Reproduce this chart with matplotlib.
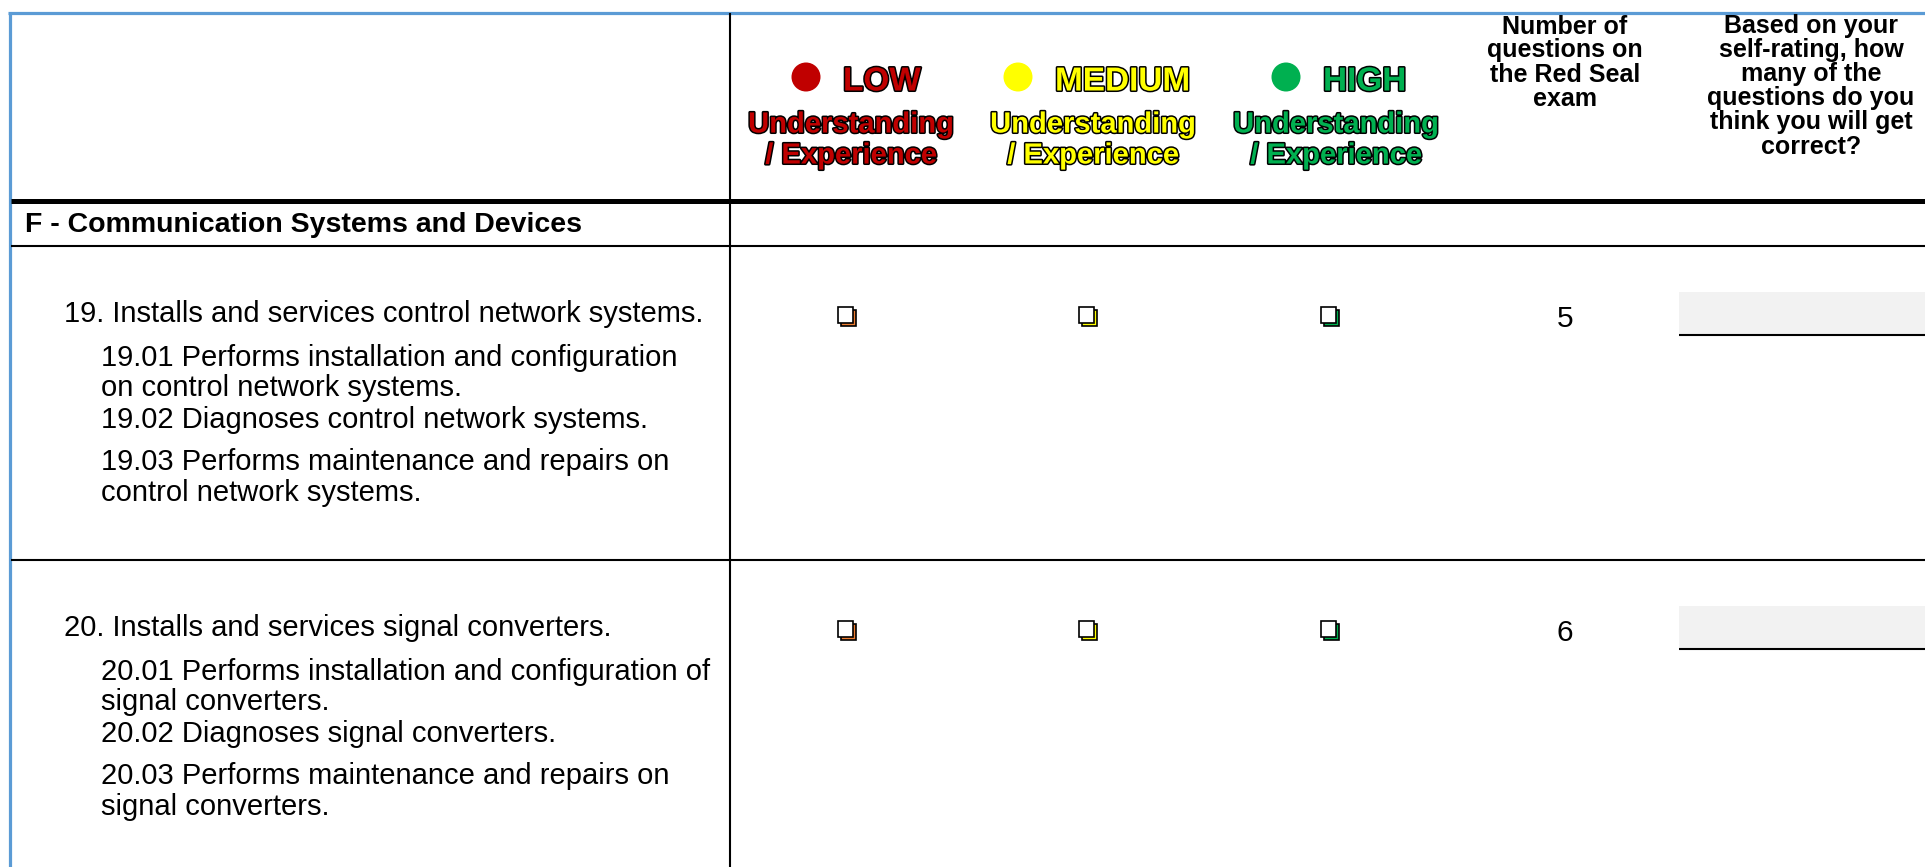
#!/usr/bin/env python3
# -*- coding: utf-8 -*-

import matplotlib
matplotlib.use('Agg')
import matplotlib.pyplot as plt
from matplotlib import patheffects
from matplotlib.patches import Ellipse, Rectangle

plt.rcParams['font.family'] = ['Liberation Sans', 'DejaVu Sans']

# ----- data -----
SECTION = "F - Communication Systems and Devices"
LEVELS = ["LOW", "MEDIUM", "HIGH"]
LEVEL_SUB = ["Understanding", "/ Experience"]
LEVEL_COLORS = ["#C00000", "#FFFF00", "#00B050"]
BOX_COLORS = ["#ED7D31", "#FFFF00", "#00B050"]
COUNT_HEADER = ["Number of", "questions on", "the Red Seal", "exam"]
SELF_HEADER = ["Based on your", "self-rating, how", "many of the",
               "questions do you", "think you will get", "correct?"]

TASKS = ["19. Installs and services control network systems.",
         "20. Installs and services signal converters."]
SUBTASKS = [
    [["19.01 Performs installation and configuration", "on control network systems."],
     ["19.02 Diagnoses control network systems."],
     ["19.03 Performs maintenance and repairs on", "control network systems."]],
    [["20.01 Performs installation and configuration of", "signal converters."],
     ["20.02 Diagnoses signal converters."],
     ["20.03 Performs maintenance and repairs on", "signal converters."]],
]
QUESTION_COUNTS = [5, 6]

# ----- layout (pixels) -----
W, H, DPI = 1925, 867, 100
BLUE = "#5B9BD5"
X_LEFT, Y_TOP = 9.5, 12.5
X_DIV = 730
Y_HEAD = 200.5
ROW_TOPS = [245.5, 559.5]
LEVEL_CX = [851, 1093, 1336]
CIRCLE_X = [806, 1018, 1286]
BOX_CX = [847, 1088, 1330]
COUNT_CX, SELF_CX = 1565, 1811
HEAD_Y0, HEAD_STEP = 24.5, 24
PARA_GAPS = [44, 31, 43]
LINE_GAP = 30.5


def put(ax, x, yc, s, size, ha='left', weight='normal', color='black', stroke=None):
    # yc is the visual middle of the capitals
    t = ax.text(x, yc + 0.36 * size / 0.72, s, fontsize=size, ha=ha, va='baseline',
                fontweight=weight, color=color)
    if stroke:
        t.set_path_effects([patheffects.withStroke(linewidth=stroke, foreground='black')])
    return t


def checkbox(ax, cx, cy, color):
    s, off = 15.5, 3
    x0 = cx - (s + off) / 2
    y0 = cy - (s + off) / 2
    ax.add_patch(Rectangle((x0 + off, y0 + off), s, s, fc=color, ec='black', lw=1.2))
    ax.add_patch(Rectangle((x0, y0), s, s, fc='white', ec='black', lw=1.2))


def main():
    fig = plt.figure(figsize=(W / DPI, H / DPI), dpi=DPI)
    ax = fig.add_axes([0, 0, 1, 1])
    ax.set_xlim(0, W)
    ax.set_ylim(H, 0)
    ax.axis('off')

    # frame and rules
    ax.plot([X_LEFT - 1.5, W], [Y_TOP, Y_TOP], color=BLUE, lw=2.3, solid_capstyle='butt')
    ax.plot([X_LEFT, X_LEFT], [Y_TOP, H], color=BLUE, lw=2.3, solid_capstyle='butt')
    ax.plot([X_DIV, X_DIV], [Y_TOP + 1, H], color='black', lw=1.5)
    ax.plot([X_LEFT + 1, W], [Y_HEAD, Y_HEAD], color='black', lw=3.6, solid_capstyle='butt')
    for y in ROW_TOPS:
        ax.plot([X_LEFT + 1, W], [y, y], color='black', lw=1.5, solid_capstyle='butt')

    # header: rating levels
    for i, level in enumerate(LEVELS):
        ax.add_patch(Ellipse((CIRCLE_X[i], 77), 29, 29, fc=LEVEL_COLORS[i], ec='none'))
        put(ax, CIRCLE_X[i] + 37, 78.5, level, 24, weight='bold',
            color=LEVEL_COLORS[i], stroke=2.2)
        for j, line in enumerate(LEVEL_SUB):
            put(ax, LEVEL_CX[i], 122 + 31 * j, line, 21, ha='center', weight='bold',
                color=LEVEL_COLORS[i], stroke=2.2)

    # header: question columns
    for j, line in enumerate(COUNT_HEADER):
        put(ax, COUNT_CX, HEAD_Y0 + HEAD_STEP * j, line, 18, ha='center', weight='bold')
    for j, line in enumerate(SELF_HEADER):
        put(ax, SELF_CX, HEAD_Y0 + HEAD_STEP * j, line, 18, ha='center', weight='bold')

    put(ax, 25, 222, SECTION, 20.5, weight='bold')

    # task rows
    for r, top in enumerate(ROW_TOPS):
        y = top + 66
        put(ax, 64, y, TASKS[r], 21)
        for p, para in enumerate(SUBTASKS[r]):
            y += PARA_GAPS[p]
            for k, line in enumerate(para):
                if k:
                    y += LINE_GAP
                put(ax, 101, y, line, 21)

        for i in range(len(LEVELS)):
            checkbox(ax, BOX_CX[i], top + 71, BOX_COLORS[i])

        put(ax, COUNT_CX, top + 71, str(QUESTION_COUNTS[r]), 21.5, ha='center')

        ax.add_patch(Rectangle((1679, top + 46.5), W - 1679, 43, fc='#F2F2F2', ec='none'))
        ax.plot([1679, W], [top + 89.5, top + 89.5], color='black', lw=1.5,
                solid_capstyle='butt')

    fig.savefig('out.png', dpi=DPI)


if __name__ == '__main__':
    main()
